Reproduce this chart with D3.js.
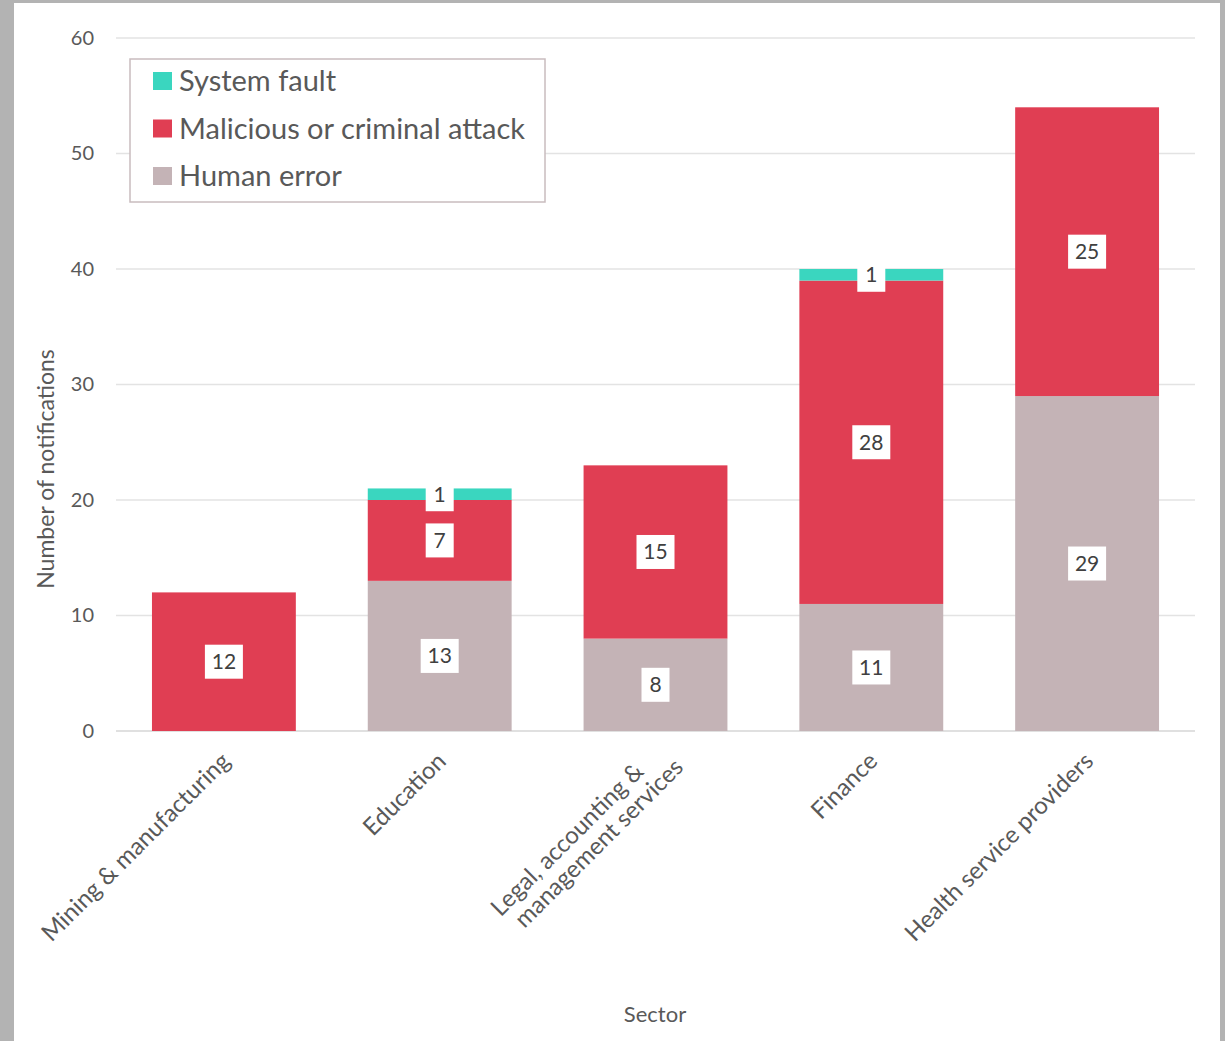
<!DOCTYPE html>
<html>
<head>
<meta charset="utf-8">
<script src="https://cdn.jsdelivr.net/npm/d3@7"></script>
<style>
  body { margin: 0; background: #b3b3b3; }
  svg { display: block; }
</style>
</head>
<body>
<script>
// Chart data
const sectors = ['Mining & manufacturing', 'Education', 'Legal, accounting & management services', 'Finance', 'Health service providers'];
const sectorLines = [['Mining & manufacturing'], ['Education'], ['Legal, accounting &', 'management services'], ['Finance'], ['Health service providers']];
const seriesNames = ['Human error', 'Malicious or criminal attack', 'System fault'];
const humanError = [0, 13, 8, 11, 29];
const malicious = [12, 7, 15, 28, 25];
const systemFault = [0, 1, 0, 1, 0];
const yTicks = [0, 10, 20, 30, 40, 50, 60];

const colors = { 'Human error': '#c4b3b6', 'Malicious or criminal attack': '#e03e53', 'System fault': '#3ad6bf' };

const width = 1225;
const height = 1041;
const margin = { top: 38, right: 30, bottom: 310, left: 116 };

const svg = d3.select('body')
  .append('svg')
  .attr('width', width)
  .attr('height', height);

// white card on the grey page
svg.append('rect')
  .attr('x', 14).attr('y', 3)
  .attr('width', 1206).attr('height', height - 3)
  .attr('fill', '#fff');

const rows = sectors.map((s, i) => ({
  sector: s,
  'Human error': humanError[i],
  'Malicious or criminal attack': malicious[i],
  'System fault': systemFault[i]
}));

const stacked = d3.stack().keys(seriesNames)(rows);

const x = d3.scaleBand()
  .domain(sectors)
  .range([margin.left, width - margin.right])
  .paddingInner(1 / 3)
  .paddingOuter(1 / 6);

const y = d3.scaleLinear()
  .domain([0, 60])
  .range([731, margin.top]);

// gridlines
svg.append('g')
  .selectAll('line')
  .data(yTicks)
  .enter()
  .append('line')
  .attr('x1', margin.left)
  .attr('x2', width - margin.right)
  .attr('y1', d => y(d))
  .attr('y2', d => y(d))
  .attr('stroke', d => d === 0 ? '#d6d6d6' : '#e3e3e3')
  .attr('stroke-width', 1.5);

// y axis labels
const yAxis = svg.append('g')
  .attr('transform', `translate(${margin.left - 22},0)`)
  .call(d3.axisLeft(y).tickValues(yTicks).tickSize(0).tickPadding(0));
yAxis.select('.domain').remove();
yAxis.selectAll('text')
  .attr('font-family', 'Lato, sans-serif')
  .attr('font-size', 20)
  .attr('fill', '#595959');

// bars
const layers = svg.append('g')
  .selectAll('g')
  .data(stacked)
  .enter()
  .append('g')
  .attr('fill', d => colors[d.key]);

layers.selectAll('rect')
  .data(d => d)
  .enter()
  .append('rect')
  .attr('x', d => x(d.data.sector))
  .attr('width', x.bandwidth())
  .attr('y', d => y(d[1]))
  .attr('height', d => y(d[0]) - y(d[1]));

// data labels
const labels = [];
stacked.forEach(layer => {
  layer.forEach(d => {
    const v = d[1] - d[0];
    if (v > 0) labels.push({ v, cx: x(d.data.sector) + x.bandwidth() / 2, cy: y((d[0] + d[1]) / 2) });
  });
});

const lab = svg.append('g')
  .selectAll('g')
  .data(labels)
  .enter()
  .append('g')
  .attr('transform', d => `translate(${d.cx},${d.cy})`);

lab.append('rect')
  .attr('x', d => String(d.v).length > 1 ? -19 : -14)
  .attr('y', -17)
  .attr('width', d => String(d.v).length > 1 ? 38 : 28)
  .attr('height', 34)
  .attr('fill', '#fff');

lab.append('text')
  .attr('text-anchor', 'middle')
  .attr('dy', '0.35em')
  .attr('font-family', 'Lato, sans-serif')
  .attr('font-size', 21)
  .attr('fill', '#404040')
  .text(d => d.v);

// x axis labels, rotated (wrapped labels get a small shift per line)
const lineShift = [-20, 11];
const xl = svg.append('g')
  .selectAll('text')
  .data(sectors)
  .enter()
  .append('text')
  .attr('transform', d => `translate(${x(d) + x.bandwidth() / 2 + 2},${757}) rotate(-45)`)
  .attr('text-anchor', 'end')
  .attr('font-family', 'Lato, sans-serif')
  .attr('font-size', 24)
  .attr('fill', '#595959');

xl.each(function (d, i) {
  const lines = sectorLines[i];
  const multi = lines.length > 1;
  d3.select(this).selectAll('tspan')
    .data(lines)
    .enter()
    .append('tspan')
    .attr('x', (t, j) => multi ? lineShift[j] : 0)
    .attr('y', (t, j) => multi ? (j - 0.5) * 25 + 15 : 8)
    .text(t => t);
});

// axis titles
svg.append('text')
  .attr('transform', 'translate(54,469) rotate(-90)')
  .attr('text-anchor', 'middle')
  .attr('font-family', 'Lato, sans-serif')
  .attr('font-size', 23)
  .attr('fill', '#595959')
  .text('Number of notifications');

svg.append('text')
  .attr('x', 655)
  .attr('y', 1022)
  .attr('text-anchor', 'middle')
  .attr('font-family', 'Lato, sans-serif')
  .attr('font-size', 22)
  .attr('fill', '#595959')
  .text('Sector');

// legend
const legend = svg.append('g');
legend.append('rect')
  .attr('x', 130).attr('y', 59)
  .attr('width', 415).attr('height', 143)
  .attr('fill', '#fff')
  .attr('stroke', '#c9bcbe')
  .attr('stroke-width', 1.5);

const legendOrder = ['System fault', 'Malicious or criminal attack', 'Human error'];
const items = legend.selectAll('g')
  .data(legendOrder)
  .enter()
  .append('g')
  .attr('transform', (d, i) => `translate(153,${81 + i * 47.5})`);

items.append('rect')
  .attr('x', 0).attr('y', -9)
  .attr('width', 19).attr('height', 18)
  .attr('fill', d => colors[d]);

items.append('text')
  .attr('x', 26)
  .attr('dy', '0.36em')
  .attr('font-family', 'Lato, sans-serif')
  .attr('font-size', 29)
  .attr('fill', '#595959')
  .text(d => d);
</script>
</body>
</html>
